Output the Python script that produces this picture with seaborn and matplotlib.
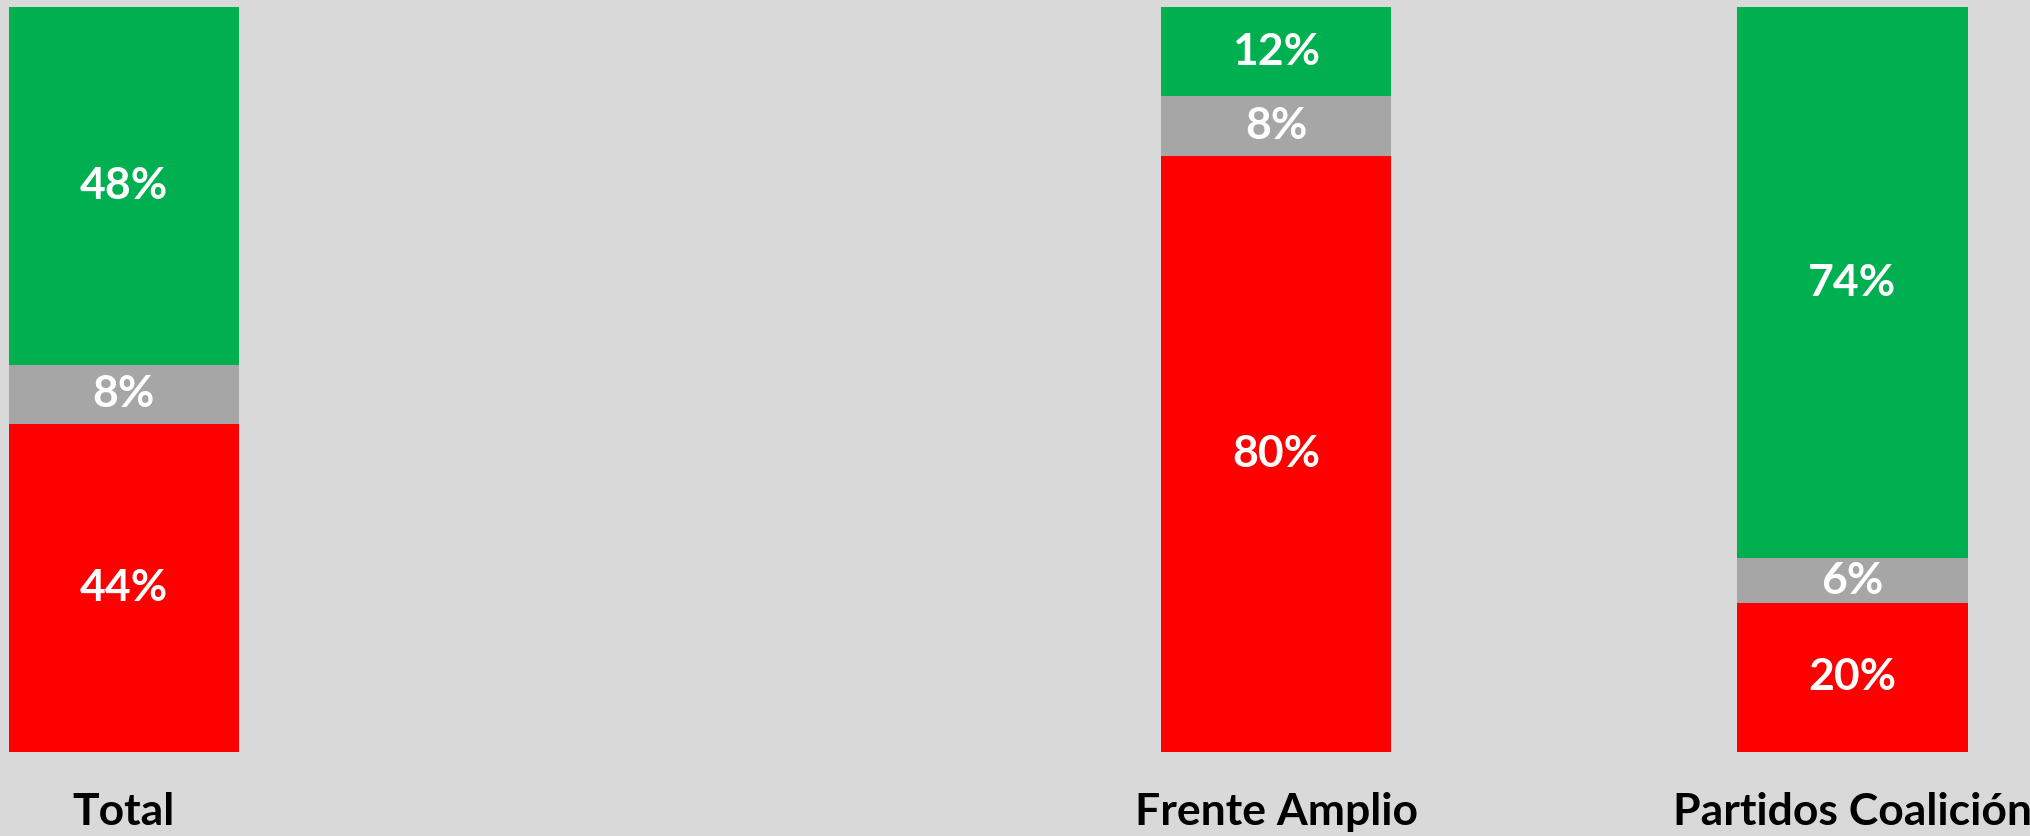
import matplotlib
matplotlib.use("Agg")
import matplotlib.pyplot as plt
import seaborn as sns
import pandas as pd

groups = ["Total", "Frente Amplio", "Partidos Coalición"]
green_vals = [48, 12, 74]
gray_vals = [8, 8, 6]
red_vals = [44, 80, 20]
# empty slot between Total and the two party bars
order = ["Total", " ", "Frente Amplio", "Partidos Coalición"]

GREEN = "#00B050"
GRAY = "#A6A6A6"
RED = "#FF0000"
BG = "#D9D9D9"

df = pd.DataFrame({"grupo": groups, "verde": green_vals, "gris": gray_vals, "rojo": red_vals})
df["tope_gris"] = df["rojo"] + df["gris"]
df["tope_verde"] = df["tope_gris"] + df["verde"]

sns.set_theme(style="white")
plt.rcParams["font.family"] = ["Lato", "DejaVu Sans"]

fig = plt.figure(figsize=(20.31, 8.36), dpi=100, facecolor=BG)
ax = fig.add_axes([0, 0.1005, 1, 0.891])
ax.set_facecolor(BG)

# stacked by overdrawing cumulative heights
for col, color in [("tope_verde", GREEN), ("tope_gris", GRAY), ("rojo", RED)]:
    sns.barplot(data=df, x="grupo", y=col, order=order, color=color,
                width=0.4, saturation=1, linewidth=0, ax=ax)

for i, row in df.iterrows():
    xpos = order.index(row["grupo"])
    segs = [(0, row["rojo"]), (row["rojo"], row["gris"]), (row["tope_gris"], row["verde"])]
    for base, val in segs:
        ax.text(xpos, base + val / 2, f"{val}%", ha="center", va="center",
                color="white", fontsize=32, fontweight="bold")

ax.set_xlim(-0.215, 3.31)
ax.set_ylim(0, 100)
ax.set_xlabel("")
ax.set_ylabel("")
ax.set_yticks([])
ax.tick_params(axis="x", length=0, pad=29)
for lbl in ax.get_xticklabels():
    lbl.set_fontsize(32)
    lbl.set_fontweight("bold")
    lbl.set_color("black")
sns.despine(ax=ax, left=True, bottom=True)

fig.savefig("out.png", dpi=100, facecolor=BG)
